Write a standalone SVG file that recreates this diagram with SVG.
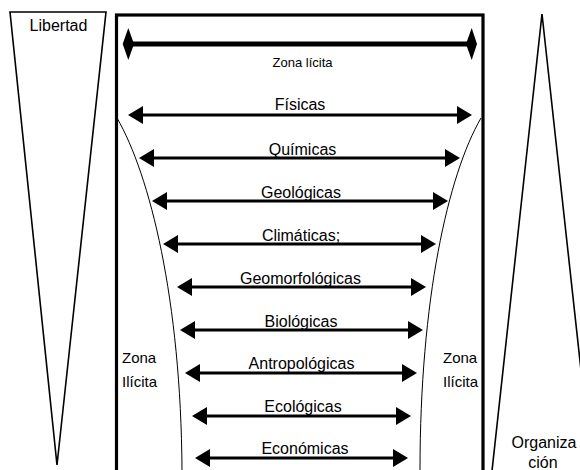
<svg xmlns="http://www.w3.org/2000/svg" width="580" height="470" viewBox="0 0 580 470">
<style>
  text { font-family: "Liberation Sans", Arial, sans-serif; fill: #000; }
  .lbl { font-size: 16px; text-anchor: middle; }
  .small { font-size: 13px; text-anchor: middle; }
  .zone { font-size: 15px; }
  .side { font-size: 16px; }
  .thin { fill: none; stroke: #000; stroke-width: 1.6; }
  .curve { fill: none; stroke: #000; stroke-width: 1; }
  .arr { stroke: #000; stroke-width: 3; marker-start: url(#head); marker-end: url(#head); }
</style>
<defs>
  <marker id="head" markerUnits="userSpaceOnUse" markerWidth="16" markerHeight="20" viewBox="0 -10 16 20" refX="5" refY="0" orient="auto-start-reverse">
    <path d="M0,-9 L15,0 L0,9 Z" fill="#000"/>
  </marker>
</defs>

<g id="libertad">
  <polygon class="thin" points="10,12 106,12 57,465"/>
  <text class="side" x="58.5" y="31" text-anchor="middle">Libertad</text>
</g>

<g id="organizacion">
  <polygon class="thin" points="542,14 491,480 593,480"/>
  <text class="side" x="544" y="448" text-anchor="middle">Organiza</text>
  <text class="side" x="543" y="468" text-anchor="middle">ción</text>
</g>

<g id="box">
  <rect x="116.5" y="15" width="366.5" height="470" fill="none" stroke="#000" stroke-width="3.2"/>
</g>

<g id="zona-ilicita-left">
  <path class="curve" d="M117,118 C150,175 181,300 182,470"/>
  <text class="zone" x="122" y="363">Zona</text>
  <text class="zone" x="122" y="387">Ilícita</text>
</g>

<g id="zona-ilicita-right">
  <path class="curve" d="M481,118 C448,175 420,300 420,470"/>
  <text class="zone" x="443" y="363">Zona</text>
  <text class="zone" x="443" y="387">Ilícita</text>
</g>

<g id="connectors">
  <g id="zona-licita">
    <line x1="128" y1="44" x2="472" y2="44" stroke="#000" stroke-width="5"/>
    <polygon points="122.7,44 128.3,28 134,44 128.3,60" fill="#000"/>
    <polygon points="466,44 471.7,28 477,44 471.7,60" fill="#000"/>
  </g>
  <line class="arr" x1="138" y1="115" x2="462" y2="115"/>
  <line class="arr" x1="149" y1="158" x2="450" y2="158"/>
  <line class="arr" x1="162" y1="201" x2="438" y2="201"/>
  <line class="arr" x1="173" y1="244" x2="426" y2="244"/>
  <line class="arr" x1="187" y1="287" x2="416" y2="287"/>
  <line class="arr" x1="190" y1="330" x2="413" y2="330"/>
  <line class="arr" x1="195" y1="373" x2="407" y2="373"/>
  <line class="arr" x1="202" y1="416" x2="401" y2="416"/>
  <line class="arr" x1="205" y1="458" x2="398" y2="458"/>
</g>

<g id="labels">
  <text class="small" x="302.5" y="67">Zona lícita</text>
  <text class="lbl" x="300" y="110">Físicas</text>
  <text class="lbl" x="302.5" y="155">Químicas</text>
  <text class="lbl" x="301" y="198">Geológicas</text>
  <text class="lbl" x="301" y="241">Climáticas;</text>
  <text class="lbl" x="300.5" y="284">Geomorfológicas</text>
  <text class="lbl" x="301" y="327">Biológicas</text>
  <text class="lbl" x="301.5" y="369">Antropológicas</text>
  <text class="lbl" x="303" y="412">Ecológicas</text>
  <text class="lbl" x="305" y="454">Económicas</text>
</g>
</svg>
